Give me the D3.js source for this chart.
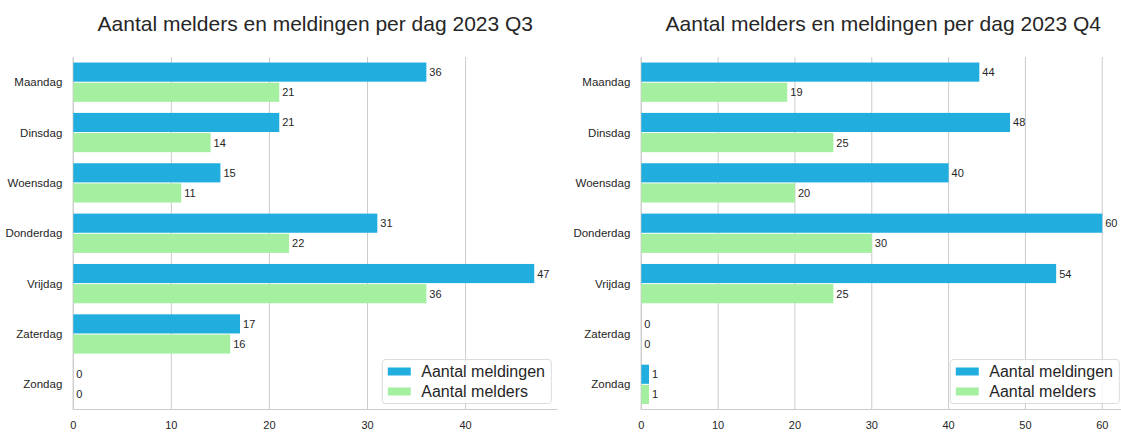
<!DOCTYPE html>
<html>
<head>
<meta charset="utf-8">
<script src="https://cdn.jsdelivr.net/npm/d3@7"></script>
<style>
  body { margin: 0; background: #fff; }
  svg { display: block; font-family: "Liberation Sans", Arial, sans-serif; }
</style>
</head>
<body>
<svg id="chart" width="1121" height="433"></svg>
<script>
const days = ["Maandag", "Dinsdag", "Woensdag", "Donderdag", "Vrijdag", "Zaterdag", "Zondag"];
const seriesNames = ["Aantal meldingen", "Aantal melders"];

const q3Meldingen = [36, 21, 15, 31, 47, 17, 0];
const q3Melders = [21, 14, 11, 22, 36, 16, 0];
const q4Meldingen = [44, 48, 40, 60, 54, 0, 1];
const q4Melders = [19, 25, 20, 30, 25, 0, 1];

const q3Ticks = [0, 10, 20, 30, 40];
const q4Ticks = [0, 10, 20, 30, 40, 50, 60];

const colors = ["#21aedf", "#a5efa0"];
const textColor = "#262626";
const gridColor = "#cccccc";

const svg = d3.select("#chart");

function panel(left, title, meldingen, melders, ticks) {
  const top = 57, bottom = 409.5, width = 484;
  const maxV = d3.max(meldingen.concat(melders));
  const x = d3.scaleLinear().domain([0, maxV * 1.05]).range([left, left + width]);
  const y = d3.scaleBand().domain(days).range([top, bottom]).paddingInner(0).paddingOuter(0);
  // two bars of 0.4 each, centred in every category band
  const inner = d3.scaleBand().domain(seriesNames).range([0, y.bandwidth()]).paddingInner(0).paddingOuter(0.25);

  const g = svg.append("g");

  // gridlines
  g.selectAll("line.grid").data(ticks).join("line")
    .attr("x1", d => x(d)).attr("x2", d => x(d))
    .attr("y1", top).attr("y2", bottom)
    .attr("stroke", gridColor).attr("stroke-width", 1);

  // spines
  g.append("line").attr("x1", left).attr("x2", left).attr("y1", top).attr("y2", bottom)
    .attr("stroke", gridColor).attr("stroke-width", 1.2);
  g.append("line").attr("x1", left).attr("x2", left + width).attr("y1", bottom).attr("y2", bottom)
    .attr("stroke", gridColor).attr("stroke-width", 1.2);

  // x tick labels
  g.selectAll("text.xt").data(ticks).join("text")
    .attr("x", d => x(d)).attr("y", 425)
    .attr("text-anchor", "middle").attr("dominant-baseline", "central")
    .attr("font-size", 11).attr("fill", textColor)
    .text(d => d);

  // y tick labels
  g.selectAll("text.yt").data(days).join("text")
    .attr("x", left - 11).attr("y", d => y(d) + y.bandwidth() / 2)
    .attr("text-anchor", "end").attr("dominant-baseline", "central")
    .attr("font-size", 11.5).attr("fill", textColor)
    .text(d => d);

  const series = [meldingen, melders];
  series.forEach((vals, si) => {
    const rows = days.map((d, i) => ({ day: d, v: vals[i] }));
    g.selectAll(null).data(rows).join("rect")
      .attr("x", x(0))
      .attr("y", d => y(d.day) + inner(seriesNames[si]) + 0.5)
      .attr("width", d => x(d.v) - x(0))
      .attr("height", inner.bandwidth() - 1)
      .attr("fill", colors[si]);
    g.selectAll(null).data(rows).join("text")
      .attr("x", d => x(d.v) + 3)
      .attr("y", d => y(d.day) + inner(seriesNames[si]) + inner.bandwidth() / 2)
      .attr("dominant-baseline", "central")
      .attr("font-size", 11).attr("fill", textColor)
      .text(d => d.v);
  });

  // title
  svg.append("text")
    .attr("x", left + width / 2).attr("y", 31)
    .attr("text-anchor", "middle")
    .attr("font-size", 21).attr("fill", textColor)
    .text(title);

  // legend
  const lw = 169, lh = 44;
  const lx = left + width - 6 - lw, ly = bottom - 6 - lh;
  const leg = g.append("g").attr("transform", `translate(${lx},${ly})`);
  leg.append("rect").attr("width", lw).attr("height", lh).attr("rx", 3)
    .attr("fill", "#fff").attr("fill-opacity", 0.8)
    .attr("stroke", "#dcdcdc").attr("stroke-width", 1);
  seriesNames.forEach((name, i) => {
    const cy = 12 + i * 20;
    leg.append("rect").attr("x", 5.5).attr("y", cy - 4).attr("width", 23).attr("height", 8)
      .attr("fill", colors[i]);
    leg.append("text").attr("x", 39).attr("y", cy)
      .attr("dominant-baseline", "central")
      .attr("font-size", 16).attr("fill", textColor)
      .text(name);
  });
}

panel(73.3, "Aantal melders en meldingen per dag 2023 Q3", q3Meldingen, q3Melders, q3Ticks);
panel(641.3, "Aantal melders en meldingen per dag 2023 Q4", q4Meldingen, q4Melders, q4Ticks);
</script>
</body>
</html>
